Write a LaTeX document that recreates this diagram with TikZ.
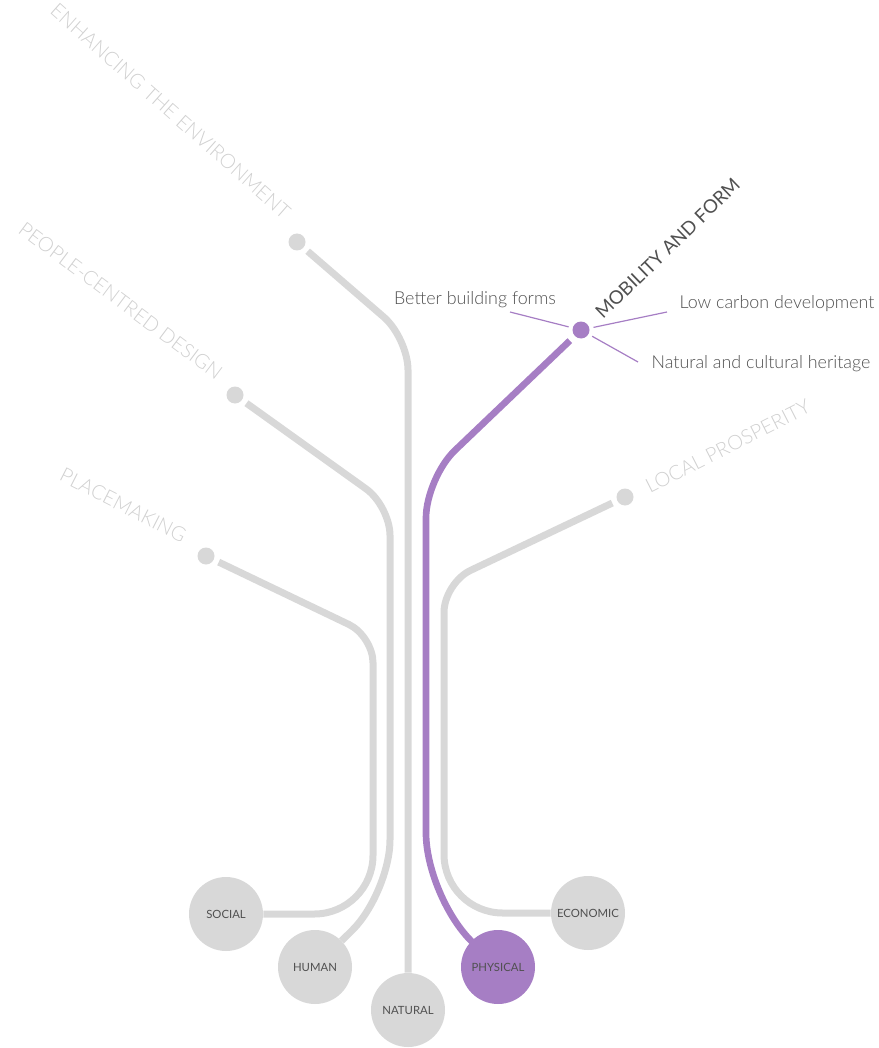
\documentclass[tikz,border=0pt]{standalone}
\usepackage{fontspec}
\setmainfont{Lato Light}
\newfontfamily\capfont{Lato}
\usepackage{tikz}
\usetikzlibrary{positioning}
\definecolor{stem}{RGB}{216,216,216}
\definecolor{stemOn}{RGB}{166,126,196}
\definecolor{faded}{RGB}{208,208,208}
\definecolor{ink}{RGB}{80,80,80}

\begin{document}
\begin{tikzpicture}[x=0.75pt,y=-0.75pt,
  stemline/.style={draw=stem,line width=5.25pt,shorten <=4pt},
  stemOnline/.style={draw=stemOn,line width=5pt,shorten <=5pt},
  twig/.style={draw=stemOn,line width=0.9pt,shorten <=3pt},
  leaf/.style={circle,fill=stem,minimum size=12.75pt,inner sep=0pt},
  root/.style={circle,fill=stem,minimum size=55.5pt,inner sep=0pt,
    font=\capfont\fontsize{8.5}{10}\selectfont,text=ink},
  theme/.style={text=faded,font=\fontsize{15}{18}\selectfont,inner sep=0pt},
  sub/.style={text=ink,font=\fontsize{13.4}{16}\selectfont,inner sep=0pt}]
  \useasboundingbox (0,0) rectangle (878,1048);

  % capitals along the bottom
  \node[root] (social)   at (226,914)  {SOCIAL};
  \node[root] (human)    at (315,967)  {HUMAN};
  \node[root] (natural)  at (408,1010) {NATURAL};
  \node[root,fill=stemOn] (physical) at (498,967) {PHYSICAL};
  \node[root] (economic) at (588,913)  {ECONOMIC};

  % end points of the branches
  \node[leaf] (dEnv)    at (297,242) {};
  \node[leaf] (dPeople) at (235,395) {};
  \node[leaf] (dPlace)  at (206,556) {};
  \node[leaf,fill=stemOn] (dMob) at (581,330) {};
  \node[leaf] (dLocal)  at (625,497) {};

  % branches: dot -> bend -> capital
  \draw[stemline,rounded corners=24pt] (dEnv) -- (408,338) -- (natural);
  \draw[stemline,rounded corners=22pt] (dPeople) -- (390,506)
    [rounded corners=40pt] -- (390,893) -- (human);
  \draw[stemline,rounded corners=20pt] (dPlace) -- (373,636)
    [rounded corners=44pt] -- (373,914) -- (social);
  \draw[stemline,rounded corners=22pt] (dLocal) -- (444,583)
    [rounded corners=44pt] -- (444,913) -- (economic);
  \draw[stemOnline,rounded corners=30pt] (dMob) -- (426,478)
    [rounded corners=48pt] -- (426,897) -- (physical);

  % theme labels
  \node[theme,rotate=-41.5,anchor=base east] (lEnv) at (283,220)
    {ENHANCING THE ENVIRONMENT};
  \node[theme,rotate=-36.8,anchor=base east] (lPeople) at (216,381)
    {PEOPLE-CENTRED DESIGN};
  \node[theme,rotate=-27,anchor=base east] (lPlace) at (182,543)
    {PLACEMAKING};
  \node[theme,rotate=27,anchor=base west] (lLocal) at (650,494)
    {LOCAL PROSPERITY};
  \node[theme,text=ink,font=\capfont\fontsize{14}{17}\selectfont,
    rotate=44,anchor=base west] (lMob) at (603,320)
    {MOBILITY AND FORM};

  % sub-topics of the selected theme
  \node[sub,anchor=base] (sBetter) at (475,305) {Better building forms};
  \node[sub,anchor=base] (sLow)    at (777,309) {Low carbon development};
  \node[sub,anchor=base] (sHer)    at (761,368) {Natural and cultural heritage};
  \coordinate (tBetter) at (510,312);
  \coordinate (tLow)    at (667,312);
  \coordinate (tHer)    at (638,362);
  \draw[twig] (dMob) -- (tBetter);
  \draw[twig] (dMob) -- (tLow);
  \draw[twig] (dMob) -- (tHer);
\end{tikzpicture}
\end{document}
